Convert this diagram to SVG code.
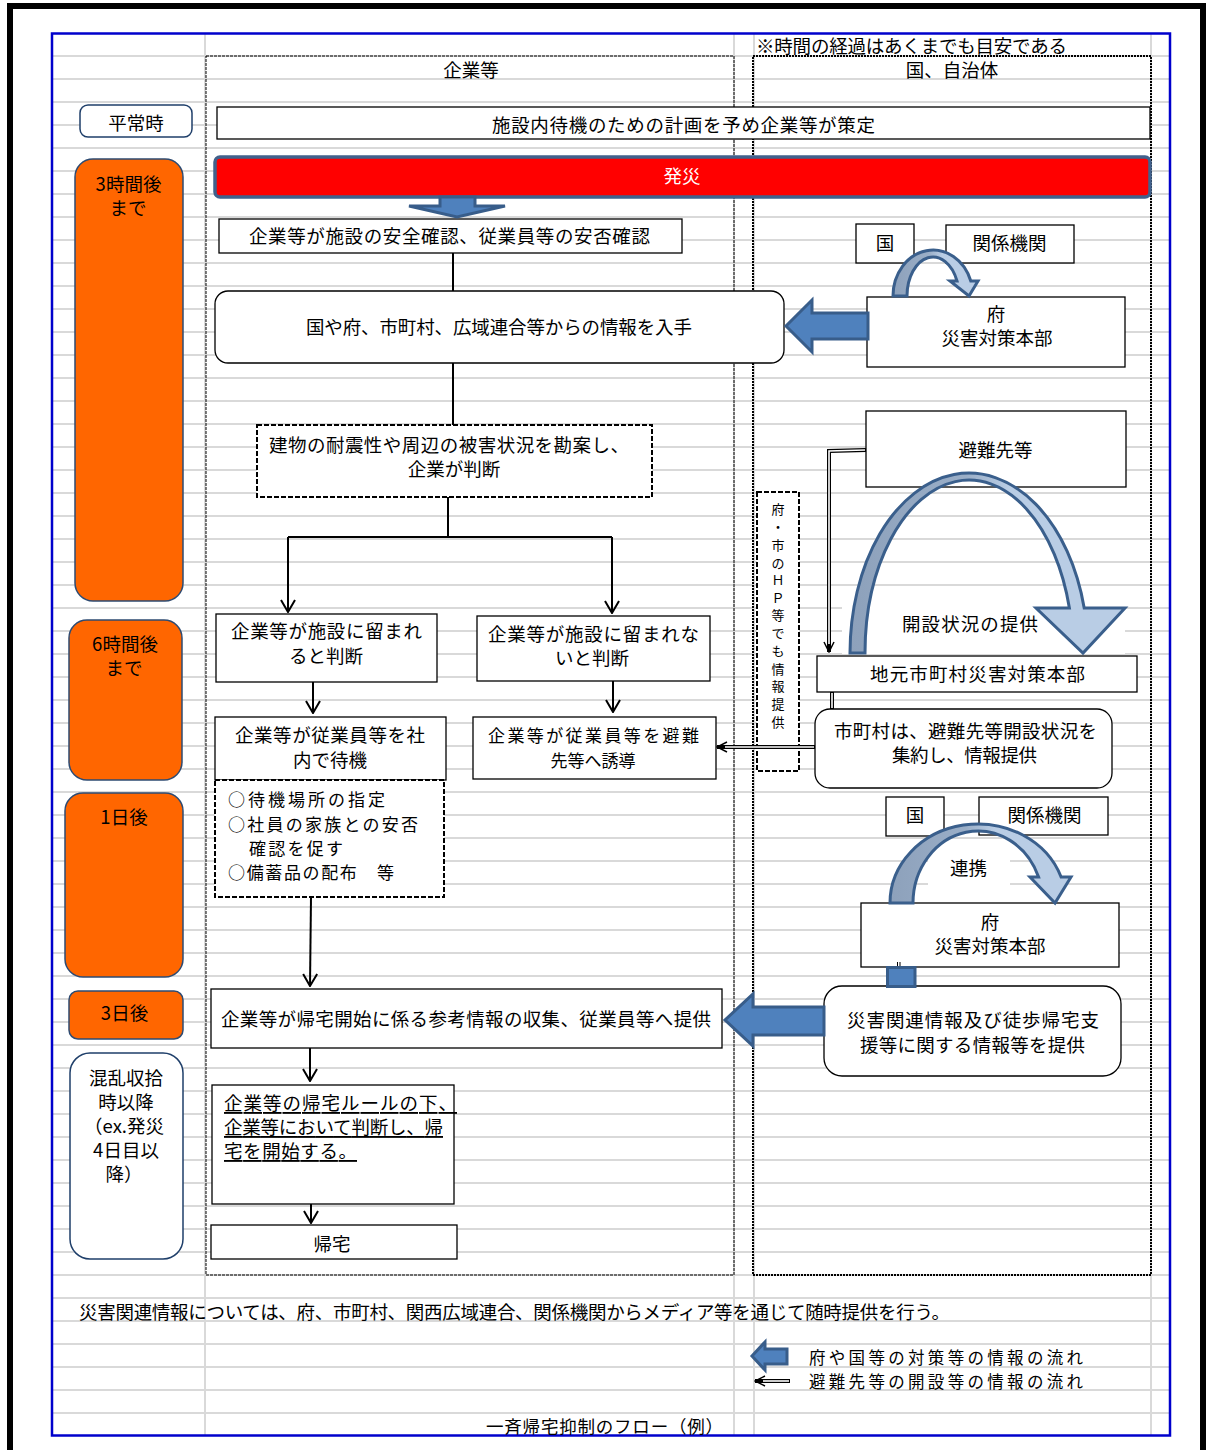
<svg xmlns="http://www.w3.org/2000/svg" width="1206" height="1450" viewBox="0 0 1206 1450">
<style>
.t{font-family:"Noto Sans CJK JP","Noto Sans",sans-serif;font-size:18.5px;fill:#000;dominant-baseline:central}
.s{font-size:17px}
.c{text-anchor:middle}
.box{fill:#fff;stroke:#000;stroke-width:1.3}
.dbox{fill:#fff;stroke:#000;stroke-width:2;stroke-dasharray:5 2}
.col1{fill:none;stroke:#000;stroke-width:1;stroke-dasharray:3 1}
.col2{fill:none;stroke:#000;stroke-width:2;stroke-dasharray:2 1}
.orange{fill:#FF6600;stroke:#2E4B72;stroke-width:1.5}
.wlab{fill:#fff;stroke:#1F3F6A;stroke-width:1.5}
.blk{fill:#4F81BD;stroke:#385D8A;stroke-width:3}
.curve{fill:url(#cg);stroke:#3A5F8C;stroke-width:3}
.ln{fill:none;stroke:#000;stroke-width:2}
.dlo{fill:none;stroke:#000;stroke-width:4}
.dli{fill:none;stroke:#fff;stroke-width:1.6}
.grid{fill:none;stroke:#D9D9D9;stroke-width:2}
</style>
<defs>
<marker id="ah" viewBox="0 0 14 16" refX="13" refY="8" markerWidth="14" markerHeight="16" markerUnits="userSpaceOnUse" orient="auto"><path d="M1,1 L13,8 L1,15" fill="none" stroke="#000" stroke-width="2"/></marker>
<marker id="ah2" viewBox="0 0 12 12" refX="11" refY="6" markerWidth="12" markerHeight="12" markerUnits="userSpaceOnUse" orient="auto"><path d="M1,1 L11,6 L1,11" fill="none" stroke="#000" stroke-width="1.5"/></marker>
<linearGradient id="cg" x1="0" y1="0" x2="1" y2="0">
<stop offset="0" stop-color="#8DA1BB"/><stop offset="0.42" stop-color="#9AAEC7"/><stop offset="0.58" stop-color="#B9CDE5"/><stop offset="1" stop-color="#B9CDE5"/>
</linearGradient>
</defs>
<rect x="0" y="0" width="1206" height="1450" fill="#fff"/>
<g id="frame">
<rect x="7" y="3" width="6" height="1447" fill="#000"/>
<rect x="7" y="3" width="1199" height="6" fill="#000"/>
<rect x="1200" y="3" width="6" height="1447" fill="#000"/>
</g>
<g id="grid">
<path class="grid" d="M52 56H1170M52 79H1170M52 102H1170M52 125H1170M52 148H1170M52 171H1170M52 194H1170M52 217H1170M52 240H1170M52 263H1170M52 286H1170M52 309H1170M52 332H1170M52 355H1170M52 378H1170M52 401H1170M52 424H1170M52 447H1170M52 470H1170M52 493H1170M52 516H1170M52 539H1170M52 562H1170M52 585H1170M52 608H1170M52 631H1170M52 654H1170M52 677H1170M52 700H1170M52 723H1170M52 746H1170M52 769H1170M52 792H1170M52 815H1170M52 838H1170M52 861H1170M52 884H1170M52 907H1170M52 930H1170M52 953H1170M52 976H1170M52 999H1170M52 1022H1170M52 1045H1170M52 1068H1170M52 1091H1170M52 1114H1170M52 1137H1170M52 1160H1170M52 1183H1170M52 1206H1170M52 1229H1170M52 1252H1170M52 1275H1170M52 1298H1170M52 1321H1170M52 1344H1170M52 1367H1170M52 1390H1170M52 1413H1170"/>
<path class="grid" d="M205 33V1436M734 33V1436M754 33V1436M1151 33V1436"/>
</g>
<rect id="border" x="52" y="33.5" width="1118" height="1402" fill="none" stroke="#0000CC" stroke-width="2.5"/>

<g id="col-kigyo">
<rect class="col1" x="206" y="56" width="528" height="1219"/>
<text class="t c" x="471" y="69">企業等</text>
</g>
<g id="col-kuni">
<rect class="col2" x="753" y="56" width="398" height="1219"/>
<text class="t c" x="952" y="69">国、自治体</text>
</g>
<text id="note" class="t" x="756" y="45" textLength="311">※時間の経過はあくまでも目安である</text>

<g id="t-heijo"><rect class="wlab" x="80" y="105" width="112" height="32" rx="8"/><text class="t c" x="136" y="122">平常時</text></g>
<g id="t-3h"><rect class="orange" x="75" y="159" width="108" height="442" rx="18"/><text class="t c" x="128.5" y="183">3時間後</text><text class="t c" x="128" y="207">まで</text></g>
<g id="t-6h"><rect class="orange" x="69" y="620" width="113" height="160" rx="18"/><text class="t c" x="125" y="643">6時間後</text><text class="t c" x="124" y="667">まで</text></g>
<g id="t-1d"><rect class="orange" x="65" y="793" width="118" height="184" rx="18"/><text class="t c" x="124" y="816">1日後</text></g>
<g id="t-3d"><rect class="orange" x="69" y="991" width="114" height="48" rx="9"/><text class="t c" x="124.5" y="1012">3日後</text></g>
<g id="t-after"><rect class="wlab" x="70" y="1053" width="113" height="206" rx="20"/>
<text class="t c" x="126" y="1077">混乱収拾</text><text class="t c" x="126" y="1101">時以降</text><text class="t c" x="124" y="1125">（ex.発災</text><text class="t c" x="126" y="1149">4日目以</text><text class="t c" x="124" y="1173">降）</text></g>

<g id="n-plan"><rect class="box" x="217" y="107" width="933" height="32"/><text class="t" x="492" y="124" textLength="383">施設内待機のための計画を予め企業等が策定</text></g>
<g id="n-hassai"><rect x="215" y="157" width="935" height="40" rx="5" fill="#FF0000" stroke="#41618C" stroke-width="3.5"/><text class="t c" x="682" y="175" style="fill:#fff">発災</text></g>
<g id="n-confirm"><rect class="box" x="219" y="219" width="463" height="34"/><text class="t" x="249" y="235" textLength="401">企業等が施設の安全確認、従業員等の安否確認</text></g>
<g id="n-info"><rect class="box" x="215" y="291" width="569" height="72" rx="13"/><text class="t" x="306" y="326" textLength="386">国や府、市町村、広域連合等からの情報を入手</text></g>
<g id="n-judge"><rect class="dbox" x="257" y="425" width="395" height="72"/><text class="t" x="269" y="444" textLength="360">建物の耐震性や周辺の被害状況を勘案し、</text><text class="t c" x="454" y="468">企業が判断</text></g>
<g id="n-stay"><rect class="box" x="216" y="614" width="221" height="68"/><text class="t" x="231" y="630" textLength="191">企業等が施設に留まれ</text><text class="t c" x="326" y="655">ると判断</text></g>
<g id="n-nostay"><rect class="box" x="477" y="616" width="233" height="65"/><text class="t" x="488" y="633" textLength="211">企業等が施設に留まれな</text><text class="t c" x="592" y="657">いと判断</text></g>
<g id="n-wait"><rect class="box" x="215" y="717" width="231" height="63"/><text class="t" x="235" y="734" textLength="190">企業等が従業員等を社</text><text class="t c" x="330" y="759">内で待機</text></g>
<g id="n-guide"><rect class="box" x="473" y="717" width="243" height="62"/><text class="t s" x="488" y="734" textLength="211">企業等が従業員等を避難</text><text class="t c s" x="593" y="759">先等へ誘導</text></g>
<g id="n-waitlist"><rect class="dbox" x="215" y="780" width="229" height="117"/>
<text class="t s" x="228" y="798" textLength="157">○待機場所の指定</text>
<text class="t s" x="228" y="823" textLength="190">○社員の家族との安否</text>
<text class="t s" x="249" y="847" textLength="94">確認を促す</text>
<text class="t s" x="228" y="871" textLength="166">○備蓄品の配布　等</text></g>
<g id="n-collect"><rect class="box" x="211" y="989" width="511" height="59"/><text class="t" x="221" y="1018" textLength="490">企業等が帰宅開始に係る参考情報の収集、従業員等へ提供</text></g>
<g id="n-rule"><rect class="box" x="212" y="1085" width="242" height="119"/>
<text class="t" x="224" y="1102" textLength="233" style="text-decoration:underline">企業等の帰宅ルールの下、</text>
<text class="t" x="224" y="1126" textLength="219" style="text-decoration:underline">企業等において判断し、帰</text>
<text class="t" x="224" y="1150" textLength="133" style="text-decoration:underline">宅を開始する。</text></g>
<g id="n-home"><rect class="box" x="211" y="1225" width="246" height="34"/><text class="t c" x="332" y="1243">帰宅</text></g>

<g id="n-kuni1"><rect class="box" x="856" y="224" width="58" height="39"/><text class="t c" x="885" y="242">国</text></g>
<g id="n-kikan1"><rect class="box" x="946" y="225" width="128" height="38"/><text class="t c" x="1009.5" y="242">関係機関</text></g>
<g id="n-fu1"><rect class="box" x="867" y="297" width="258" height="70"/><text class="t c" x="996" y="313">府</text><text class="t c" x="997" y="337">災害対策本部</text></g>
<g id="n-hinan"><rect class="box" x="866" y="411" width="260" height="76"/><text class="t c" x="995.5" y="449">避難先等</text></g>
<rect x="842" y="592" width="283" height="62" fill="#fff"/>
<g id="n-jimoto"><rect class="box" x="817" y="656" width="320" height="36"/><text class="t" x="870" y="673" textLength="215">地元市町村災害対策本部</text></g>
<g id="n-shichoson"><rect class="box" x="815" y="709" width="297" height="79" rx="15"/><text class="t" x="834" y="730" textLength="263">市町村は、避難先等開設状況を</text><text class="t" x="892" y="754" textLength="145">集約し、情報提供</text></g>
<g id="n-hp"><rect class="dbox" x="757" y="492" width="42" height="279"/>
<text class="t c" style="font-size:13px"><tspan x="778" y="508">府</tspan><tspan x="778" y="526">・</tspan><tspan x="778" y="544">市</tspan><tspan x="778" y="562">の</tspan><tspan x="778" y="579">Ｈ</tspan><tspan x="778" y="597">Ｐ</tspan><tspan x="778" y="614">等</tspan><tspan x="778" y="632">で</tspan><tspan x="778" y="650">も</tspan><tspan x="778" y="668">情</tspan><tspan x="778" y="685">報</tspan><tspan x="778" y="703">提</tspan><tspan x="778" y="721">供</tspan></text></g>
<g id="n-kuni2"><rect class="box" x="886" y="797" width="58" height="39"/><text class="t c" x="915" y="814">国</text></g>
<g id="n-kikan2"><rect class="box" x="979" y="797" width="129" height="38"/><text class="t c" x="1044.5" y="814">関係機関</text></g>
<rect x="928" y="846" width="82" height="48" fill="#fff"/>
<g id="n-fu2"><rect class="box" x="861" y="903" width="258" height="64"/><text class="t c" x="990" y="921">府</text><text class="t c" x="990" y="945">災害対策本部</text></g>
<g id="n-saigai"><rect class="box" x="824" y="986" width="297" height="90" rx="18"/><text class="t" x="847" y="1019" textLength="252">災害関連情報及び徒歩帰宅支</text><text class="t" x="860" y="1044" textLength="225">援等に関する情報等を提供</text></g>

<g id="connectors">
<path class="ln" d="M453 253V291"/>
<path class="ln" d="M453 363V425"/>
<path class="ln" d="M448 497V537M288 537H612"/>
<path class="ln" d="M288 537V612" marker-end="url(#ah)"/>
<path class="ln" d="M612 537V613" marker-end="url(#ah)"/>
<path class="ln" d="M313 682V713" marker-end="url(#ah)"/>
<path class="ln" d="M613 681V712" marker-end="url(#ah)"/>
<path class="ln" d="M311 897L310 986" marker-end="url(#ah)"/>
<path class="ln" d="M310 1048V1081" marker-end="url(#ah)"/>
<path class="ln" d="M311 1204V1223" marker-end="url(#ah)"/>
<path class="dlo" d="M866 450L829 451V652" marker-end="url(#ah2)"/>
<path class="dli" d="M865 450L829 451V644"/>
<path class="dlo" d="M832 692V709"/>
<path class="dli" d="M832 693V708"/>
<path class="dlo" d="M815 747H717" marker-end="url(#ah2)"/>
<path class="dli" d="M814 747H725"/>
<path d="M897.5 962V967M900 962V967" stroke="#000" stroke-width="1" fill="none"/>
</g>

<g id="arrows">
<path class="blk" d="M440 197H475V206H505L457 217L409 206H440Z"/>
<path class="blk" d="M868 313H812V300L786 326L812 352V339H868Z"/>
<path class="blk" d="M824 1007H753V994L725 1020L753 1046V1035H824Z"/>
<path class="blk" d="M887.5 967.5H915V986.5H887.5Z"/>
<path class="curve" d="M893 296A40 46 0 0 1 970.8 281L978 281L969 296L950 281L957 281A26 39 0 0 0 907 296Z"/>
<path class="curve" d="M850 653A119 180 0 0 1 1084.2 608L1125 608L1083 653L1036 608L1069.4 608A104 173 0 0 0 865 653Z"/>
<path class="curve" d="M890 903A88 79 0 0 1 1061.1 877L1071 877L1055 903L1030 877L1038.6 877A65 72 0 0 0 913 903Z"/>
</g>
<text class="t" x="902" y="623" textLength="136">開設状況の提供</text>
<text class="t c" x="968.5" y="867">連携</text>

<text id="footer" class="t" x="79" y="1311" textLength="871">災害関連情報については、府、市町村、関西広域連合、関係機関からメディア等を通じて随時提供を行う。</text>
<g id="legend">
<path class="blk" d="M787 1349H765V1342L752 1356L765 1370V1364H787Z"/>
<text class="t" x="809" y="1357" textLength="274" style="font-size:16.5px">府や国等の対策等の情報の流れ</text>
<path class="dlo" d="M790 1381H755" marker-end="url(#ah2)"/>
<path class="dli" d="M789 1381H763"/>
<text class="t" x="809" y="1381" textLength="274" style="font-size:16.5px">避難先等の開設等の情報の流れ</text>
</g>
<text id="title" class="t" x="486" y="1425" textLength="237" style="font-size:17.5px">一斉帰宅抑制のフロー（例）</text>
</svg>
